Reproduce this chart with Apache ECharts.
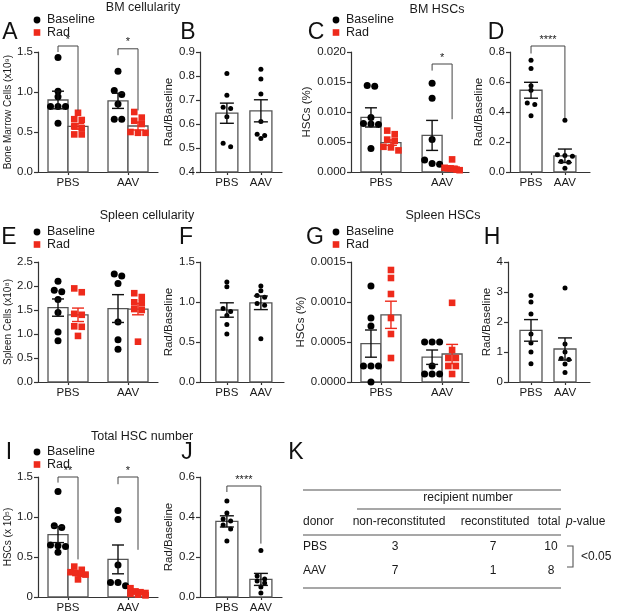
<!DOCTYPE html>
<html><head><meta charset="utf-8">
<script src="https://cdn.jsdelivr.net/npm/echarts/dist/echarts.min.js"></script>
<style>html,body{margin:0;padding:0;background:#fff}#c{width:617px;height:615px}</style>
</head><body><div id="c"></div>
<script>
const FONT = '"Liberation Sans", Arial, Helvetica, sans-serif';
const groups = ['PBS', 'AAV'];

// A: BM cellularity (x10^9)
const bmCellBaseline = [[1.43,1.01,0.94,0.82,0.82,0.82,0.61],[1.26,1.02,0.97,0.85,0.66,0.66]];
const bmCellRad = [[0.74,0.66,0.65,0.57,0.55,0.47,0.47],[0.75,0.68,0.64,0.60,0.50,0.49,0.49]];
const bmCellBaselineMean = [0.90,0.89], bmCellBaselineSem = [0.11,0.095];
const bmCellRadMean = [0.57,0.575], bmCellRadSem = [0.035,0.05];
const bmCellSig = [[0,0,0,1,1.575,1.50,0.77],[1,0,1,1,1.54,1.46,0.77]];
const bmCellSigText = ['*','*'];
// B
const bmRatio = [[0.81,0.72,0.67,0.665,0.63,0.52,0.505],[0.828,0.787,0.725,0.61,0.557,0.552,0.54]];
const bmRatioMean = [0.645,0.655], bmRatioSem = [0.042,0.046];
// C: BM HSCs (%)
const bmHscBaseline = [[0.0143,0.0144,0.0091,0.0081,0.0080,0.0079,0.0039],[0.0148,0.0123,0.0054,0.0020,0.0014,0.0013]];
const bmHscRad = [[0.0069,0.0063,0.0054,0.0052,0.0042,0.0041,0.0036],[0.0021,0.0007,0.0006,0.0006,0.0005,0.0004,0.0003]];
const bmHscBaselineMean = [0.0091,0.0061], bmHscBaselineSem = [0.0016,0.0025];
const bmHscRadMean = [0.0049,0.0007], bmHscRadSem = [0.00045,0.00025];
const bmHscSig = [[1,0,1,1,0.018,0.0169,0.0088]];
const bmHscSigText = ['*'];
// D
const bmHscRatio = [[0.745,0.69,0.575,0.545,0.46,0.45,0.375],[0.345,0.115,0.11,0.105,0.07,0.065,0.025]];
const bmHscRatioMean = [0.545,0.108], bmHscRatioSem = [0.053,0.045];
const bmHscRatioSig = [[0,-1,1,-1,0.84,0.79,0.36]];
const bmHscRatioSigText = ['****'];
// E: Spleen cellularity (x10^8)
const spCellBaseline = [[2.10,1.91,1.88,1.72,1.45,1.04,0.86],[2.21,2.25,2.05,1.25,0.88,0.68]];
const spCellRad = [[1.95,1.87,1.42,1.40,1.16,1.15,0.96],[1.85,1.77,1.66,1.64,1.52,1.50,0.84]];
const spCellBaselineMean = [1.55,1.53], spCellBaselineSem = [0.18,0.29];
const spCellRadMean = [1.40,1.52], spCellRadSem = [0.14,0.12];
// F
const spRatio = [[1.25,1.19,0.92,0.88,0.83,0.72,0.60],[1.20,1.14,1.08,1.06,0.98,0.96,0.54]];
const spRatioMean = [0.90,0.99], spRatioSem = [0.09,0.085];
// G: Spleen HSCs (%)
const spHscBaseline = [[0.0012,0.0008,0.0007,0.0002,0.0002,0.0002,0],[0.0005,0.0005,0.0005,0.0002,0.0001,0.0001,0.0001]];
const spHscRad = [[0.0014,0.0013,0.0011,0.0008,0.0006,0.0003],[0.00099,0.0004,0.0003,0.0003,0.0002,0.0002,0.0001]];
const spHscBaselineMean = [0.00048,0.00031], spHscBaselineSem = [0.00017,0.00009];
const spHscRadMean = [0.00084,0.00035], spHscRadSem = [0.00017,0.00012];
// H
const spHscRatio = [[2.88,2.67,2.27,1.6,1.3,1.0,0.61],[3.13,1.27,1.0,0.78,0.75,0.6,0.32]];
const spHscRatioMean = [1.72,1.10], spHscRatioSem = [0.36,0.37];
// I: Total HSC number (x10^5)
const totHscBaseline = [[1.32,0.89,0.87,0.65,0.64,0.63,0.56],[1.08,0.97,0.40,0.18,0.18,0.14]];
const totHscRad = [[0.38,0.34,0.31,0.30,0.29,0.28,0.22],[0.11,0.07,0.06,0.05,0.04,0.03,0.02]];
const totHscBaselineMean = [0.78,0.47], totHscBaselineSem = [0.10,0.18];
const totHscRadMean = [0.30,0.05], totHscRadSem = [0.022,0.013];
const totHscSig = [[0,0,0,1,1.5,1.43,0.47],[1,0,1,1,1.5,1.41,0.59]];
const totHscSigText = ['**','*'];
// J
const totRatio = [[0.48,0.42,0.39,0.38,0.36,0.34,0.28],[0.233,0.105,0.09,0.08,0.07,0.05,0.02]];
const totRatioMean = [0.378,0.088], totRatioSem = [0.028,0.03];
const totRatioSig = [[0,-1,1,-1,0.555,0.525,0.267]];
const totRatioSigText = ['****'];
// K: table
const tableSpan = 'recipient number';
const tableHeader = ['donor','non-reconstituted','reconstituted','total'];
const tableRows = [['PBS',3,7,10],['AAV',7,1,8]];
const tablePValue = '<0.05';

const titles = [['BM cellularity',143,8],['BM HSCs',437,10],['Spleen cellularity',147,216],['Spleen HSCs',443,216],['Total HSC number',142,437]];
const letters = [['A',10,33],['B',188,33],['C',316,33],['D',496,33],['E',9,238],['F',186,238],['G',315,238],['H',492,238],['I',9,453],['J',187,453],['K',296,453]];

const AX = '#333', BAR = '#555', RED = '#ee2a1b', TXT = '#1a1a1a';
const f1 = v => v.toFixed(1);

const panels = [
  {g:[38,52,120,120], x:[-0.5,1.5], y:[0,1.5,0.5], fmt:f1, name:'Bone Marrow Cells (x10⁹)', gap:22, nsize:10,
   grouped:true, base:bmCellBaseline, rad:bmCellRad, bm:bmCellBaselineMean, bs:bmCellBaselineSem, rm:bmCellRadMean, rs:bmCellRadSem, sig:bmCellSig, sigT:bmCellSigText},
  {g:[200,52,82,120], x:[-0.79,1.62], y:[0.4,0.9,0.1], fmt:f1, name:'Rad/Baseline', gap:22,
   grouped:false, vals:bmRatio, m:bmRatioMean, s:bmRatioSem},
  {g:[351,52,118,120], x:[-0.49,1.44], y:[0,0.02,0.005], fmt:v=>v.toFixed(3), name:'HSCs (%)', gap:38,
   grouped:true, base:bmHscBaseline, rad:bmHscRad, bm:bmHscBaselineMean, bs:bmHscBaselineSem, rm:bmHscRadMean, rs:bmHscRadSem, sig:bmHscSig, sigT:bmHscSigText},
  {g:[510,52,80,120], x:[-0.62,1.74], y:[0,0.8,0.2], fmt:f1, name:'Rad/Baseline', gap:25,
   grouped:false, vals:bmHscRatio, m:bmHscRatioMean, s:bmHscRatioSem, sig:bmHscRatioSig, sigT:bmHscRatioSigText},
  {g:[38,262,120,120], x:[-0.5,1.5], y:[0,2.5,0.5], fmt:f1, name:'Spleen Cells (x10⁸)', gap:22, nsize:10,
   grouped:true, base:spCellBaseline, rad:spCellRad, bm:spCellBaselineMean, bs:spCellBaselineSem, rm:spCellRadMean, rs:spCellRadSem},
  {g:[200,262,84,120], x:[-0.79,1.68], y:[0,1.5,0.5], fmt:f1, name:'Rad/Baseline', gap:22,
   grouped:false, vals:spRatio, m:spRatioMean, s:spRatioSem},
  {g:[351,262,118,120], x:[-0.49,1.44], y:[0,0.0015,0.0005], fmt:v=>v.toFixed(4), name:'HSCs (%)', gap:38,
   grouped:true, base:spHscBaseline, rad:spHscRad, bm:spHscBaselineMean, bs:spHscBaselineSem, rm:spHscRadMean, rs:spHscRadSem},
  {g:[508,262,82,120], x:[-0.676,1.735], y:[0,4,1], fmt:v=>String(Math.round(v)), name:'Rad/Baseline', gap:15,
   grouped:false, vals:spHscRatio, m:spHscRatioMean, s:spHscRatioSem},
  {g:[38,477,120,120], x:[-0.5,1.5], y:[0,1.5,0.5], fmt:v=>v===0?'0':v.toFixed(1), name:'HSCs (x 10⁵)', gap:22, nsize:10,
   grouped:true, base:totHscBaseline, rad:totHscRad, bm:totHscBaselineMean, bs:totHscBaselineSem, rm:totHscRadMean, rs:totHscRadSem, sig:totHscSig, sigT:totHscSigText},
  {g:[200,477,82,120], x:[-0.79,1.62], y:[0,0.6,0.2], fmt:f1, name:'Rad/Baseline', gap:22,
   grouped:false, vals:totRatio, m:totRatioMean, s:totRatioSem, sig:totRatioSig, sigT:totRatioSigText}
];

function swarm(vals, pxPerUnit, d, step, maxHalf) {
  const idx = vals.map((v,i)=>i).sort((a,b)=>vals[b]-vals[a]);
  const dx = new Array(vals.length).fill(0);
  let cl = [idx[0]];
  const flush = () => { const n = cl.length; if (n > 1) { const s = Math.min(step, 2*maxHalf/(n-1)); cl.forEach((k,j)=>{ dx[k] = (j-(n-1)/2)*s; }); } };
  for (let j = 1; j < idx.length; j++) {
    const first = vals[cl[0]], cur = vals[idx[j]];
    if ((first-cur)*pxPerUnit < d*0.8) cl.push(idx[j]); else { flush(); cl = [idx[j]]; }
  }
  flush();
  return dx;
}

const option = {animation:false, grid:[], xAxis:[], yAxis:[], series:[], graphic:[]};

panels.forEach((p, i) => {
  const bw = p.grouped ? 20 : 22;
  const off = sub => sub < 0 ? 0 : (sub === 0 ? -bw/2 : bw/2);
  const d = p.grouped ? 7 : 5;
  const step = p.grouped ? 7.5 : 7.5;
  const maxHalf = p.grouped ? 7.5 : 9;
  const pxu = p.g[3] / (p.y[1]-p.y[0]);
  option.grid.push({left:p.g[0], top:p.g[1], width:p.g[2], height:p.g[3]});
  option.xAxis.push({type:'value', gridIndex:i, min:p.x[0], max:p.x[1], splitLine:{show:false},
    axisLine:{show:true, onZero:false, lineStyle:{color:AX, width:1.2}},
    axisTick:{show:true, customValues:[0,1], length:3, lineStyle:{color:AX, width:1.2}},
    axisLabel:{customValues:[0,1], formatter:v=>groups[Math.round(v)], fontSize:11.5, color:TXT, margin:5, fontFamily:FONT}});
  option.yAxis.push({type:'value', gridIndex:i, min:p.y[0], max:p.y[1], interval:p.y[2], splitLine:{show:false},
    axisLine:{show:true, onZero:false, lineStyle:{color:AX, width:1.2}},
    axisTick:{show:true, length:4, lineStyle:{color:AX, width:1.2}},
    axisLabel:{formatter:p.fmt, fontSize:11.5, color:TXT, margin:5, fontFamily:FONT},
    name:p.name, nameLocation:'middle', nameGap:p.gap, nameTextStyle:{fontSize:p.nsize||11.5, color:TXT, fontFamily:FONT}});

  const bars = [], pts = [];
  if (p.grouped) {
    for (let g = 0; g < 2; g++) {
      bars.push([g,0,p.bm[g],p.bs[g]]); bars.push([g,1,p.rm[g],p.rs[g]]);
      [[p.base[g],0],[p.rad[g],1]].forEach(([vals,sub]) => {
        const dx = swarm(vals, pxu, d, step, maxHalf);
        vals.forEach((v,k)=>pts.push([g,sub,v,dx[k]]));
      });
    }
  } else {
    for (let g = 0; g < 2; g++) {
      bars.push([g,-1,p.m[g],p.s[g]]);
      const dx = swarm(p.vals[g], pxu, d, step, maxHalf);
      p.vals[g].forEach((v,k)=>pts.push([g,-1,v,dx[k]]));
    }
  }
  const base = {type:'custom', xAxisIndex:i, yAxisIndex:i, silent:true};
  option.series.push(Object.assign({}, base, {data:bars, renderItem:(params, api) => {
    const g = api.value(0), sub = api.value(1), m = api.value(2);
    const top = api.coord([g,m]), bot = api.coord([g,p.y[0]]);
    const cx = top[0] + off(sub);
    return {type:'rect', shape:{x:cx-bw/2, y:top[1], width:bw, height:bot[1]-top[1]}, style:{fill:'#fff', stroke:BAR, lineWidth:1.3}};
  }}));
  option.series.push(Object.assign({}, base, {data:pts, z:3, renderItem:(params, api) => {
    const g = api.value(0), sub = api.value(1), v = api.value(2), dx = api.value(3);
    const c = api.coord([g,v]);
    const x = c[0] + off(sub) + dx, y = c[1];
    if (sub === 1) { const sq = 6.6; return {type:'rect', shape:{x:x-sq/2, y:y-sq/2, width:sq, height:sq}, style:{fill:RED}}; }
    return {type:'circle', shape:{cx:x, cy:y, r:d/2}, style:{fill:'#000'}};
  }}));
  option.series.push(Object.assign({}, base, {data:bars, z:4, renderItem:(params, api) => {
    const g = api.value(0), sub = api.value(1), m = api.value(2), s = api.value(3);
    const hi = api.coord([g,m+s]), lo = api.coord([g,Math.max(m-s,p.y[0])]);
    const cx = hi[0] + off(sub), cw = p.grouped ? 6 : 7;
    const col = sub === 1 ? RED : '#111';
    const st = {stroke:col, lineWidth:1.4};
    return {type:'group', children:[
      {type:'line', shape:{x1:cx, y1:hi[1], x2:cx, y2:lo[1]}, style:st},
      {type:'line', shape:{x1:cx-cw, y1:hi[1], x2:cx+cw, y2:hi[1]}, style:st},
      {type:'line', shape:{x1:cx-cw, y1:lo[1], x2:cx+cw, y2:lo[1]}, style:st}
    ]};
  }}));
  if (p.sig) {
    option.series.push(Object.assign({}, base, {data:p.sig, z:5, renderItem:(params, api) => {
      const g1 = api.value(0), s1 = api.value(1), g2 = api.value(2), s2 = api.value(3);
      const yt = api.coord([0, api.value(4)])[1], yl = api.coord([0, api.value(5)])[1], yr = api.coord([0, api.value(6)])[1];
      const x1 = api.coord([g1,0])[0] + off(s1), x2 = api.coord([g2,0])[0] + off(s2);
      return {type:'group', children:[
        {type:'polyline', shape:{points:[[x1,yl],[x1,yt],[x2,yt],[x2,yr]]}, style:{stroke:'#444', lineWidth:1, fill:null}},
        {type:'text', x:(x1+x2)/2, y:yt-1, style:{text:p.sigT[params.dataIndex], fontSize:11, fontFamily:FONT, fill:TXT, align:'center', verticalAlign:'bottom'}}
      ]};
    }}));
  }
});

const G = option.graphic;
titles.forEach(([t,x,y]) => G.push({type:'text', x, y, style:{text:t, fontSize:12.5, fontFamily:FONT, fill:TXT, align:'center', verticalAlign:'middle'}}));
letters.forEach(([t,x,y]) => G.push({type:'text', x, y, style:{text:t, fontSize:23, fontFamily:FONT, fill:'#111', align:'center', verticalAlign:'middle'}}));
[[37,20],[336,20],[37,232],[336,232],[37,452]].forEach(([x,y]) => {
  G.push({type:'circle', shape:{cx:x, cy:y, r:3.4}, style:{fill:'#000'}});
  G.push({type:'text', x:x+10, y:y, style:{text:'Baseline', fontSize:12.5, fontFamily:FONT, fill:TXT, verticalAlign:'middle'}});
  G.push({type:'rect', shape:{x:x-3.3, y:y+12.5-3.3, width:6.6, height:6.6}, style:{fill:RED}});
  G.push({type:'text', x:x+10, y:y+12.5, style:{text:'Rad', fontSize:12.5, fontFamily:FONT, fill:TXT, verticalAlign:'middle'}});
});
// Table K
const TL = {stroke:'#8a8a8a', lineWidth:1.5};
[[303,490,561],[357,509,561],[303,535,561],[303,588,561]].forEach(([x1,y,x2]) => G.push({type:'line', shape:{x1, y1:y, x2, y2:y}, style:TL}));
const tx = (text,x,y,align) => G.push({type:'text', x, y, style:{text, fontSize:12, fontFamily:FONT, fill:TXT, align:align||'center', verticalAlign:'middle',
  rich:{i:{fontStyle:'italic', fontSize:12, fontFamily:FONT, fill:TXT}}}});
tx(tableSpan, 468, 498);
const headX = [303,399,495,549];
tableHeader.forEach((h,k) => tx(h, headX[k], 522, k===0?'left':'center'));
tx('{i|p}-value', 566, 522, 'left');
const colX = [303,395,493,551];
tableRows.forEach((r,ri) => r.forEach((c,k) => tx(String(c), colX[k], 547+ri*24, k===0?'left':'center')));
G.push({type:'polyline', shape:{points:[[567,546],[573,546],[573,567],[567,567]]}, style:{stroke:'#555', lineWidth:1.1, fill:null}});
tx(tablePValue, 581, 557, 'left');

const chart = echarts.init(document.getElementById('c'), null, {renderer:'canvas'});
chart.setOption(option);
</script></body></html>
